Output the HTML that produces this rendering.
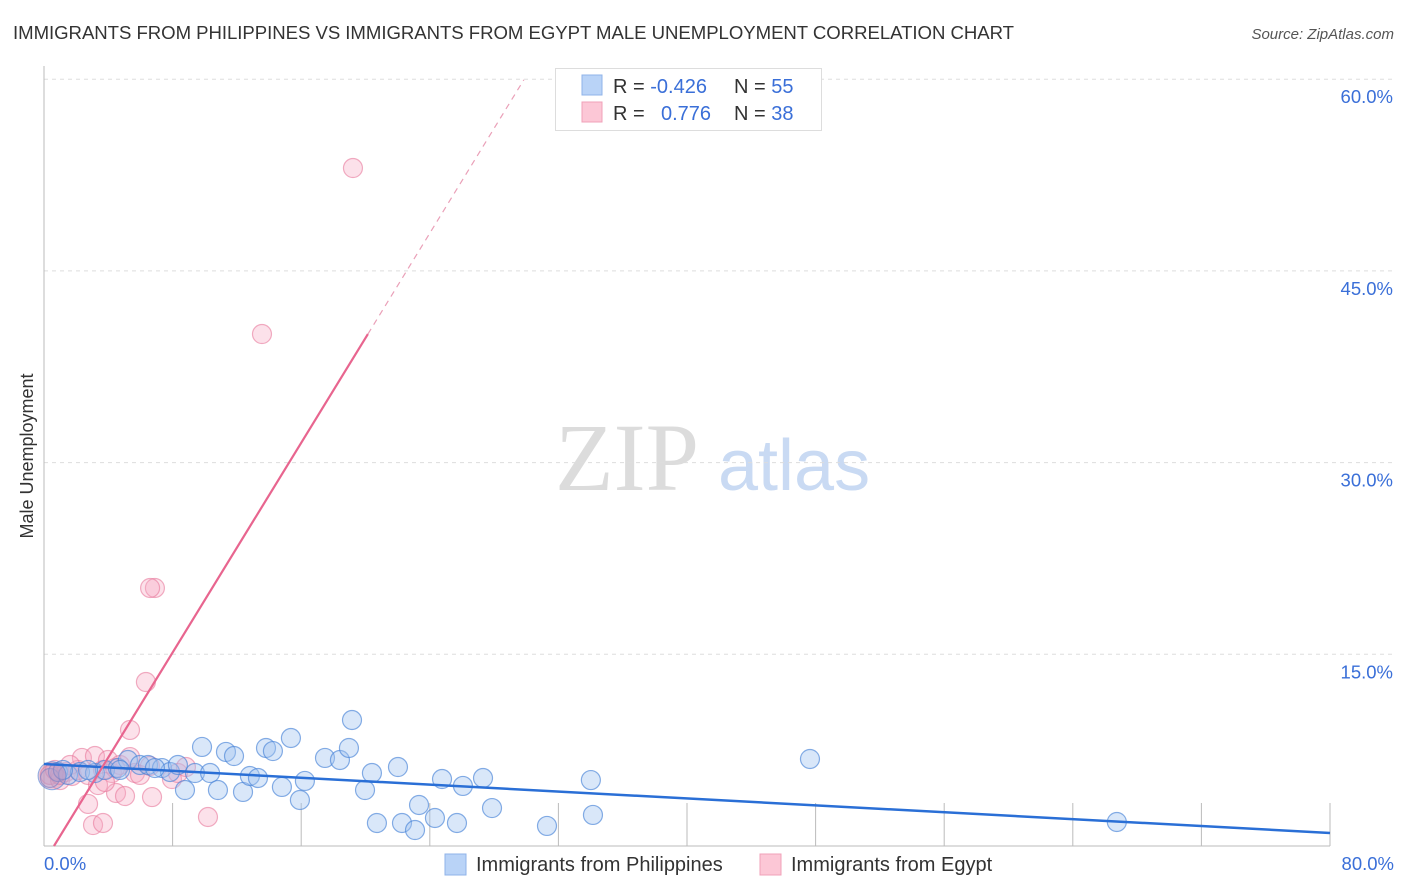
<!DOCTYPE html>
<html><head><meta charset="utf-8"><style>
body{margin:0;background:#fff;font-family:"Liberation Sans",sans-serif;}
svg{display:block}
</style></head><body>
<svg id="chart" width="1406" height="892">
<text x="13" y="39" font-size="18.6" fill="#333" textLength="1001">IMMIGRANTS FROM PHILIPPINES VS IMMIGRANTS FROM EGYPT MALE UNEMPLOYMENT CORRELATION CHART</text>
<text x="1394" y="39" font-size="15" fill="#555" font-style="italic" text-anchor="end">Source: ZipAtlas.com</text>
<text transform="translate(33,456) rotate(-90)" font-size="18" fill="#333" text-anchor="middle">Male Unemployment</text>
<g>
<text x="555" y="490" font-family="Liberation Serif,serif" font-size="96" fill="#dcdcdc">ZIP</text>
<text x="718" y="490" font-size="72" fill="#c9daf3">atlas</text>
</g>
<g id="grid"></g>
<g id="axes"></g>
<g id="pts"></g>
<g id="lines"></g>
<g>
<rect x="555.5" y="68.5" width="266" height="62" fill="#fff" stroke="#ddd"/>
<rect x="582" y="75" width="20" height="20" fill="#b9d3f7" stroke="#8fb3e8"/>
<rect x="582" y="102" width="20" height="20" fill="#fcc7d6" stroke="#f0a0b8"/>
<text x="613" y="93" font-size="20" fill="#333">R = <tspan fill="#3a6fd8">-0.426</tspan></text>
<text x="734" y="93" font-size="20" fill="#333">N = <tspan fill="#3a6fd8">55</tspan></text>
<text x="613" y="120" font-size="20" fill="#333">R = <tspan fill="#3a6fd8" x="661">0.776</tspan></text>
<text x="734" y="120" font-size="20" fill="#333">N = <tspan fill="#3a6fd8">38</tspan></text>
</g>
<g>
<rect x="445" y="854" width="21" height="21" fill="#b9d3f7" stroke="#8fb3e8"/>
<text x="476" y="871" font-size="20" fill="#333">Immigrants from Philippines</text>
<rect x="760" y="854" width="21" height="21" fill="#fcc7d6" stroke="#f0a0b8"/>
<text x="791" y="871" font-size="20" fill="#333">Immigrants from Egypt</text>
</g>
</svg>
<script>
const yTicks=[15,30,45,60];
const yTickLabels=["15.0%","30.0%","45.0%","60.0%"];
const xTicks=[0,8,16,24,32,40,48,56,64,72,80];
const blueX=[0.37,0.87,1.49,2.24,3.17,3.79,4.60,5.22,5.97,6.47,7.34,7.84,8.33,8.77,9.39,9.83,10.33,10.82,11.32,11.82,12.38,12.81,13.31,13.81,14.24,14.80,15.36,15.92,16.23,17.48,18.41,19.16,18.97,19.97,20.40,20.71,22.02,22.27,23.08,23.33,24.32,24.76,25.69,26.06,27.31,27.87,31.29,34.02,34.15,47.65,66.74,4.73,6.90,1.18,2.74];
const blueY=[5.32,5.79,5.56,5.79,5.71,5.95,6.10,6.73,6.34,6.34,6.10,5.79,6.34,4.38,5.71,7.75,5.71,4.38,7.36,7.04,4.23,5.48,5.32,7.67,7.43,4.62,8.45,3.60,5.09,6.89,6.73,9.86,7.67,4.38,5.71,1.80,6.18,1.80,1.25,3.21,2.19,5.24,1.80,4.70,5.32,2.97,1.57,5.16,2.43,6.81,1.88,5.95,6.10,5.95,5.95];
const pinkX=[19.22,13.56,6.90,6.34,5.35,0.37,0.68,1.00,1.37,1.74,2.11,2.36,2.74,3.17,3.36,3.67,3.98,4.23,4.48,4.73,5.04,5.35,5.66,5.97,6.59,6.72,7.96,8.33,8.83,10.20,2.74,3.05,3.67,1.00,1.62,3.79,4.42,6.60];
const pinkY=[53.05,40.06,20.19,12.83,9.08,5.56,5.95,5.16,5.79,5.48,5.95,6.89,5.56,7.04,4.77,5.95,6.73,5.71,4.15,6.34,3.91,6.96,5.71,5.56,6.26,3.83,5.24,5.71,6.18,2.27,3.29,1.64,1.80,5.56,6.34,5.01,6.10,20.19];
const blueLine=[0,6.42,80,1.02];
const pinkLine=[0.62,0,20.15,40.06,29.85,59.95];
const NS="http://www.w3.org/2000/svg";
const X=v=>44+v/80*1286, Y=v=>846-v/15*191.7;
function mk(p,t,a){const e=document.createElementNS(NS,t);for(const k in a)e.setAttribute(k,a[k]);p.appendChild(e);return e;}
const grid=document.getElementById('grid'),axes=document.getElementById('axes'),pts=document.getElementById('pts'),lines=document.getElementById('lines');
yTicks.forEach((t,i)=>{
 const l=mk(grid,'line',{x1:44,x2:1394,y1:Y(t),y2:Y(t),stroke:'#ddd','stroke-dasharray':'4,4'});
 
 
 const tx=mk(axes,'text',{x:1393,y:Y(t)+24,'font-size':18.5,fill:'#3a6fd8','text-anchor':'end'});
 tx.textContent=yTickLabels[i];
 
 
});
const ya=mk(axes,'line',{x1:44,x2:44,y1:66,y2:846,stroke:'#bbb'});


const xa=mk(axes,'line',{x1:44,x2:1330,y1:846,y2:846,stroke:'#bbb'});


xTicks.forEach(t=>{const l=mk(axes,'line',{x1:X(t),x2:X(t),y1:803,y2:846,stroke:'#bbb'});
 
 });
[[0,"0.0%",'start',44],[80,"80.0%",'end',1394]].forEach(a=>{const t=mk(axes,'text',{x:a[3],y:870,'font-size':18.5,fill:'#3a6fd8','text-anchor':a[2]});t.textContent=a[1];
 
 });
pinkX.forEach((x,i)=>{const c=mk(pts,'circle',{cx:X(x),cy:Y(pinkY[i]),r:9.5,fill:'rgba(246,170,195,0.35)',stroke:'rgba(232,120,155,0.6)','stroke-width':1.2});
 
 });
blueX.forEach((x,i)=>{const c=mk(pts,'circle',{cx:X(x),cy:Y(blueY[i]),r:9.5,fill:'rgba(160,195,240,0.4)',stroke:'rgba(70,130,215,0.65)','stroke-width':1.2});
 
 });
const big=mk(pts,'circle',{cx:X(0.5),cy:Y(5.5),r:14,fill:'rgba(200,130,170,0.45)',stroke:'rgba(70,130,215,0.6)'});


const bl=mk(lines,'line',{x1:X(blueLine[0]),y1:Y(blueLine[1]),x2:X(blueLine[2]),y2:Y(blueLine[3]),stroke:'#2a6fd6','stroke-width':2.5});


const pl=mk(lines,'line',{x1:X(pinkLine[0]),y1:Y(pinkLine[1]),x2:X(pinkLine[2]),y2:Y(pinkLine[3]),stroke:'#e8658f','stroke-width':2.2});


const pd=mk(lines,'line',{x1:X(pinkLine[2]),y1:Y(pinkLine[3]),x2:X(pinkLine[4]),y2:Y(pinkLine[5]),stroke:'#eaa0b8','stroke-width':1.2,'stroke-dasharray':'6,5'});


</script>
</body></html>
